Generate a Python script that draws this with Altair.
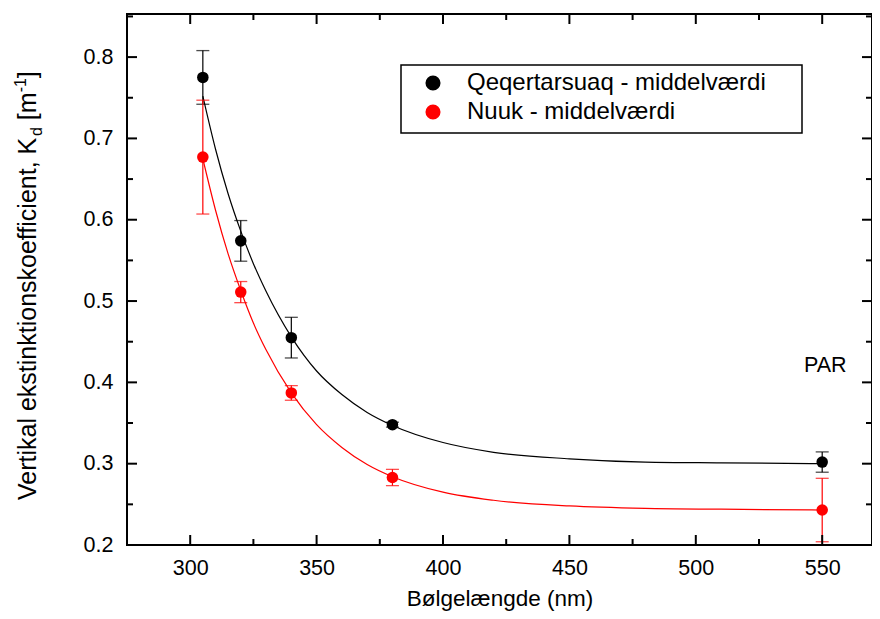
import altair as alt
import pandas as pd

# ---------------- data ----------------
series = ["Qeqertarsuaq - middelværdi", "Nuuk - middelværdi"]
colors = ["#000000", "#ff0000"]

wavelengths = [305, 320, 340, 380, 550]
qeq_mean = [0.775, 0.574, 0.455, 0.348, 0.302]
qeq_err = [0.033, 0.025, 0.025, 0.003, 0.0125]
nuuk_mean = [0.677, 0.511, 0.387, 0.283, 0.243]
nuuk_err = [0.070, 0.013, 0.009, 0.010, 0.039]

# fitted curves
curve_x = [305, 310, 315, 320, 325, 330, 340, 350, 360, 370, 380, 400, 420, 450, 480, 510, 550]
qeq_curve = [0.752, 0.687, 0.632, 0.586, 0.546, 0.512, 0.456, 0.414, 0.385, 0.363,
             0.347, 0.326, 0.314, 0.306, 0.302, 0.301, 0.300]
nuuk_curve = [0.675, 0.612, 0.558, 0.513, 0.473, 0.440, 0.387, 0.348, 0.320, 0.299,
              0.284, 0.265, 0.255, 0.248, 0.245, 0.244, 0.243]

x_major = [300, 350, 400, 450, 500, 550]
x_minor = [325, 375, 425, 475, 525]
y_major = [0.2, 0.3, 0.4, 0.5, 0.6, 0.7, 0.8]
y_minor = [0.25, 0.35, 0.45, 0.55, 0.65, 0.75, 0.85]

par_label = ["PAR"]
par_pos = [(550, 0.413)]

x_title = "Bølgelængde (nm)"
y_title_main = "Vertikal ekstinktionskoefficient, K"
y_title_sub = "d"
y_title_unit = "[m"
y_title_sup = "-1"
y_title_end = "]"

# ---------------- layout ----------------
W, H = 745, 531
XDOM = [275, 569.7]
YDOM = [0.2, 0.853]
FONT = "Liberation Sans"

xs = alt.Scale(domain=XDOM, nice=False, zero=False)
ys = alt.Scale(domain=YDOM, nice=False, zero=False)
cs = alt.Scale(domain=series, range=colors)

rows = []
for s, means, errs in ((series[0], qeq_mean, qeq_err), (series[1], nuuk_mean, nuuk_err)):
    for w, m, e in zip(wavelengths, means, errs):
        rows.append(dict(serie=s, wl=w, kd=m, lo=m - e, hi=m + e))
pts = pd.DataFrame(rows)

crow = []
for s, vals in ((series[0], qeq_curve), (series[1], nuuk_curve)):
    for w, v in zip(curve_x, vals):
        crow.append(dict(serie=s, wl=w, kd=v))
curves_df = pd.DataFrame(crow)

x_axis = alt.Axis(values=x_major, format="d", grid=False, domain=False, ticks=False, tickSize=0,
                  labelFont=FONT, labelFontSize=21.5, labelColor="black", labelPadding=12,
                  title=x_title, titleFont=FONT, titleFontSize=22.5, titleFontWeight="normal",
                  titleColor="black", titleY=60, titleBaseline="alphabetic")
y_axis = alt.Axis(values=y_major, format=".1f", grid=False, domain=False, ticks=False, tickSize=0,
                  labelFont=FONT, labelFontSize=21.5, labelColor="black", labelPadding=14,
                  title="")


def X(field):
    return alt.X(field, scale=xs, axis=x_axis)


def Y(field):
    return alt.Y(field, scale=ys, axis=y_axis)


series_layers = []
for s, c in zip(series, colors):
    flt = alt.datum.serie == s
    series_layers.append(
        alt.Chart(curves_df).transform_filter(flt).mark_line(
            strokeWidth=1.2, interpolate="monotone", color=c).encode(x=X("wl:Q"), y=Y("kd:Q")))
    series_layers.append(
        alt.Chart(pts).transform_filter(flt).mark_rule(strokeWidth=1.2, color=c).encode(
            x=X("wl:Q"), y=Y("lo:Q"), y2="hi:Q"))
    series_layers.append(
        alt.Chart(pts).transform_filter(flt).mark_tick(
            orient="horizontal", size=13, thickness=1.3, color=c).encode(x=X("wl:Q"), y=Y("lo:Q")))
    series_layers.append(
        alt.Chart(pts).transform_filter(flt).mark_tick(
            orient="horizontal", size=13, thickness=1.3, color=c).encode(x=X("wl:Q"), y=Y("hi:Q")))

points = alt.Chart(pts).mark_circle(size=133, opacity=1).encode(
    x=X("wl:Q"), y=Y("kd:Q"),
    color=alt.Color("serie:N", scale=cs, sort=series,
                    legend=alt.Legend(orient="none", legendX=294, legendY=57, title=None,
                                      labelFont=FONT, labelFontSize=24, labelColor="black",
                                      labelLimit=600,
                                      symbolSize=227, symbolType="circle", symbolOpacity=1,
                                      symbolStrokeWidth=0, labelOffset=22, rowPadding=5,
                                      padding=0)),
)


def xticks(vals, length, width, top):
    df = pd.DataFrame({"wl": vals})
    y = alt.value(0) if top else alt.value(H)
    y2 = alt.value(length) if top else alt.value(H - length)
    return alt.Chart(df).mark_rule(color="black", strokeWidth=width).encode(
        x=X("wl:Q"), y=y, y2=y2)


def yticks(vals, length, width, right):
    df = pd.DataFrame({"kd": vals})
    x = alt.value(W) if right else alt.value(0)
    x2 = alt.value(W - length) if right else alt.value(length)
    return alt.Chart(df).mark_rule(color="black", strokeWidth=width).encode(
        y=Y("kd:Q"), x=x, x2=x2)


ticks = [
    xticks(x_major, 10, 2, False), xticks(x_minor, 6, 2, False),
    xticks(x_major, 10, 2, True), xticks(x_minor, 6, 2, True),
    yticks(y_major, 10, 2, False), yticks(y_minor, 6, 2, False),
    yticks(y_major, 10, 2, True), yticks(y_minor, 6, 2, True),
]

legend_box = alt.Chart(pd.DataFrame({"a": [0]})).mark_rect(
    filled=False, stroke="black", strokeWidth=1.5).encode(
    x=alt.value(274), x2=alt.value(675), y=alt.value(51), y2=alt.value(119))

par_df = pd.DataFrame({"t": par_label, "wl": [p[0] for p in par_pos], "kd": [p[1] for p in par_pos]})
par = alt.Chart(par_df).mark_text(font=FONT, fontSize=21.5, color="black", align="center",
                                  baseline="alphabetic", dx=3).encode(
    x=X("wl:Q"), y=Y("kd:Q"), text="t:N")

# rotated y title made of pieces (Arial/Liberation advance widths, per 1000 em)
ADV = {'V': 667, 'e': 556, 'r': 333, 't': 278, 'i': 222, 'k': 500, 'a': 556, 'l': 222, ' ': 278,
       's': 500, 'n': 556, 'o': 556, 'f': 278, 'c': 500, ',': 278, 'K': 667, 'd': 556, '[': 278,
       'm': 833, '-': 333, '1': 556, ']': 278}


def tw(s, size):
    return sum(ADV[c] for c in s) * size / 1000.0


F, FS = 25, 16
BASE_X = -91
pieces = []
yy = 486.0
pieces.append((y_title_main, F, BASE_X, yy)); yy -= tw(y_title_main, F)
pieces.append((y_title_sub, FS, BASE_X + 6, yy)); yy -= tw(y_title_sub, FS)
yy -= tw(" ", F)
pieces.append((y_title_unit, F, BASE_X, yy)); yy -= tw(y_title_unit, F)
pieces.append((y_title_sup, FS, BASE_X - 10, yy)); yy -= tw(y_title_sup, FS)
pieces.append((y_title_end, F, BASE_X, yy))

title_layers = []
for txt, size, px, py in pieces:
    title_layers.append(
        alt.Chart(pd.DataFrame({"t": [txt]})).mark_text(
            font=FONT, fontSize=size, color="black", angle=270, align="left",
            baseline="alphabetic").encode(x=alt.value(px), y=alt.value(py), text="t:N"))

chart = alt.layer(*series_layers, points, *ticks, legend_box, par, *title_layers).properties(
    width=W, height=H,
    autosize=alt.AutoSizeParams(type="none"),
    padding={"left": 119, "top": 6, "right": 0, "bottom": 66},
    background="white",
).configure_view(stroke="black", strokeWidth=2)

chart.save("out.html", embed_options={"renderer": "svg", "actions": False})
